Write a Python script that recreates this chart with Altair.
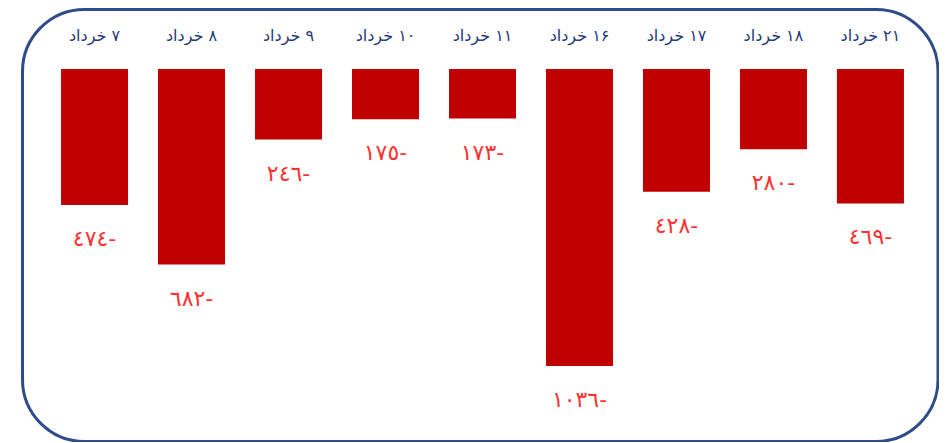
import altair as alt
import pandas as pd

categories = ["۷ خرداد", "۸ خرداد", "۹ خرداد", "۱۰ خرداد", "۱۱ خرداد",
              "۱۶ خرداد", "۱۷ خرداد", "۱۸ خرداد", "۲۱ خرداد"]
values = [-474, -682, -246, -175, -173, -1036, -428, -280, -469]
value_labels = ["٤٧٤-", "٦٨٢-", "٢٤٦-", "١٧٥-", "١٧٣-", "١٠٣٦-", "٤٢٨-", "٢٨٠-", "٤٦٩-"]

df = pd.DataFrame({
    "cat": categories,
    "val": values,
    "lab": value_labels,
    "top": ["\u200f" + c for c in categories],
})

x_enc = alt.X("cat:N", sort=categories, axis=None,
              scale=alt.Scale(paddingInner=0.309, paddingOuter=0.155))
y_scale = alt.Scale(domain=[-1036, 0], nice=False, zero=True)

base = alt.Chart(df)

border = alt.Chart(pd.DataFrame({"a": [0]})).mark_rect(
    cornerRadius=62, fillOpacity=0, stroke="#2F4B8A", strokeWidth=3
).encode(
    x=alt.value(-23.5), x2=alt.value(892), y=alt.value(-59.5), y2=alt.value(372.5)
)

bars = base.mark_bar(color="#C00000").encode(
    x=x_enc,
    y=alt.Y("val:Q", scale=y_scale, axis=None),
)

vlabels = base.mark_text(
    color="#FF3030", fontSize=22, font="DejaVu Sans", fontWeight="normal",
    baseline="middle", align="center", dy=34
).encode(
    x=x_enc,
    y=alt.Y("val:Q", scale=y_scale, axis=None),
    text="lab:N",
)

tlabels = base.mark_text(
    color="#1F3A78", fontSize=16, font="DejaVu Sans", baseline="middle", align="center"
).encode(
    x=x_enc,
    y=alt.value(-33),
    text="top:N",
)

chart = alt.layer(border, bars, vlabels, tlabels).properties(
    width=873, height=297,
    padding={"left": 38, "top": 61, "right": 20, "bottom": 76},
    autosize="none",
).configure_view(strokeWidth=0)

chart.save("out.html", embed_options={"renderer": "svg", "actions": False})
